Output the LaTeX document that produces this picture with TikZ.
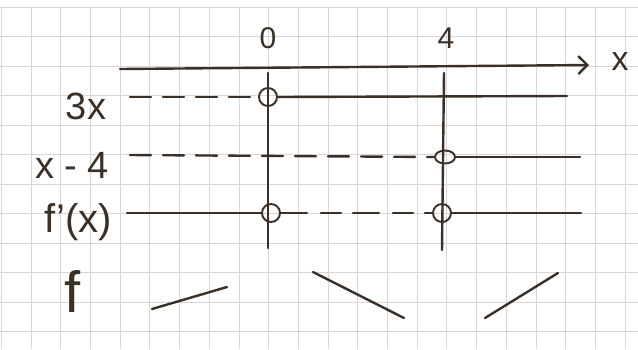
\documentclass[tikz,border=0pt]{standalone}
\usepackage{fontspec}
\setmainfont{Liberation Sans}
\usetikzlibrary{arrows.meta, positioning, shapes.geometric}
\definecolor{ink}{RGB}{58,48,40}
\definecolor{gridline}{RGB}{220,213,213}

\begin{document}
\begin{tikzpicture}[
  x=1pt, y=-1pt,
  pen/.style={draw=ink, line width=2.4pt, line cap=round},
  dashpen/.style={pen, dash pattern=on 21pt off 12pt},
  ring/.style={circle, draw=ink, line width=1.9pt, minimum size=18pt, inner sep=0pt},
  flatring/.style={ellipse, draw=ink, line width=1.9pt, minimum width=20pt,
                   minimum height=13pt, inner sep=0pt},
  lbl/.style={text=ink, font=\fontsize{38}{40}\selectfont, inner sep=0pt},
  tick/.style={text=ink, font=\fontsize{30}{32}\selectfont, inner sep=0pt}
]
\useasboundingbox (0,0) rectangle (638,349);
\fill[white] (0,0) rectangle (638,349);

% grid paper
\foreach \i in {0,...,21}
  \draw[gridline, line width=0.8pt] ({1.3+29.7*\i},7) -- ({1.3+29.7*\i},349);
\foreach \j in {0,...,11}
  \draw[gridline, line width=0.8pt] (0,{7+29.5*\j}) -- (638,{7+29.5*\j});

% x axis with the two critical points
\coordinate (ax0) at (120,69);
\coordinate (ax1) at (589,65);
\node[lbl, font=\fontsize{34}{36}\selectfont] (xlbl) at (620,62) {x};
\draw[pen, -{Straight Barb[length=9pt, width=18pt, line width=2.4pt]}] (ax0) -- (ax1);
\node[tick] (zero) at (268,38) {0};
\node[tick] (four) at (446,38) {4};

% vertical lines at 0 and 4
\coordinate (v0top) at (268,73);
\coordinate (v0bot) at (268,248);
\coordinate (v4top) at (444,73);
\coordinate (v4bot) at (442,250);
\draw[pen] (v0top) -- (v0bot);
\draw[pen] (v4top) -- (v4bot);

% row: 3x
\node[lbl] (r1) at (86,106) {3x};
\node[ring] (r1a) at (268,97) {};
\coordinate (r1s) at (130,97);
\coordinate (r1e) at (567,96);
\draw[dashpen] (r1s) -- (r1a.west);
\draw[pen] (r1a.east) -- (r1e);

% row: x - 4
\node[lbl] (r2) at (72,165) {x - 4};
\node[flatring] (r2b) at (445,157) {};
\coordinate (r2s) at (130,155);
\coordinate (r2e) at (580,157);
\draw[dashpen] (r2s) -- (r2b.west);
\draw[pen] (r2b.east) -- (r2e);

% row: f'(x)
\node[lbl, font=\fontsize{40}{42}\selectfont] (r3) at (78,222) {f'(x)};
\node[ring] (r3a) at (271,213) {};
\node[ring] (r3b) at (442,213) {};
\coordinate (r3s) at (127,213);
\coordinate (r3e) at (581,213);
\draw[pen] (r3s) -- (r3a.west);
\draw[dashpen, dash pattern=on 26pt off 14pt on 20pt off 12pt] (r3a.east) -- (r3b.west);
\draw[pen] (r3b.east) -- (r3e);

% row: f
\node[lbl, font=\fontsize{58}{60}\selectfont] (r4) at (73,292) {f};
\draw[pen] (152,309) -- (227,287);
\draw[pen] (313,272) -- (404,318);
\draw[pen] (485,318) -- (558,273);

\end{tikzpicture}
\end{document}
